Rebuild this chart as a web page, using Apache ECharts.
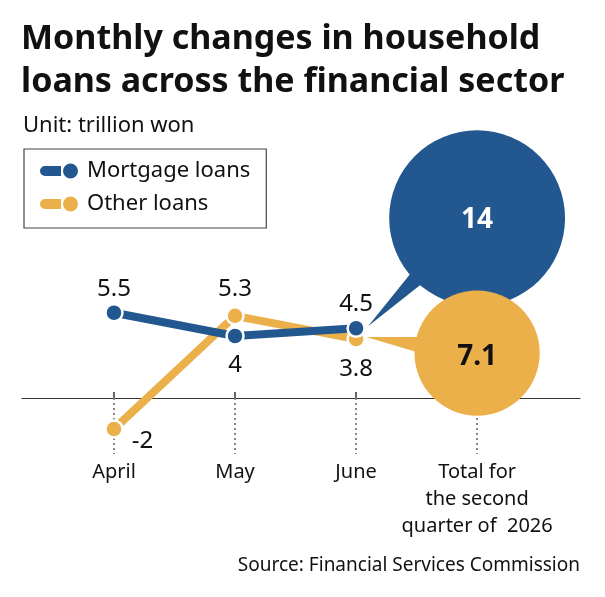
<!DOCTYPE html>
<html><head><meta charset="utf-8">
<script src="https://cdn.jsdelivr.net/npm/echarts@6/dist/echarts.min.js"></script>
<style>html,body{margin:0;padding:0;background:#fff}#c{width:605px;height:597px}</style>
</head><body><div id="c"></div>
<script>
// ---- data ----
const categories = ['April', 'May', 'June', 'Total for\nthe second\nquarter of  2026'];
const seriesNames = ['Mortgage loans', 'Other loans'];
const mortgageLoans = [5.5, 4, 4.5];
const otherLoans = [-2, 5.3, 3.8];
const quarterTotals = [14, 7.1];

// ---- style ----
const BLUE = '#22578f', ORANGE = '#ebb04a', INK = '#111';
const FONT = '"Noto Sans", sans-serif';
const BUBBLE_CY = [11.6, 2.9];      // layout: bubble centre heights (axis units)
const R_K = 23.5;                   // bubble radius = R_K * sqrt(value)
const lastVals = [mortgageLoans, otherLoans].map(a => a[a.length - 1]);
const tipOffset = [[12, -2], [10, -2]];
const tipHalf = [8, 8];

const mLabel = [{position: 'top', distance: 2}, {position: 'bottom', distance: 7}, {position: 'top', distance: 2}];
const oLabel = [{position: 'right', distance: 8, offset: [0, 12]}, {position: 'top', distance: 5}, {position: 'bottom', distance: 8}];

const iconPath = 'path://M5,2.5 L21,2.5 L21,12.5 L5,12.5 A5,5 0 0 1 5,2.5 Z M23,7.5 A7.5,7.5 0 1 0 38,7.5 A7.5,7.5 0 1 0 23,7.5 Z';

function lineSeries(name, vals, color, labels, z) {
  return {
    type: 'line', name: name, z: z, clip: false,
    data: vals.map((v, i) => ({value: [i, v], label: labels[i]})),
    symbol: 'circle', symbolSize: 17,
    lineStyle: {color: color, width: 8},
    itemStyle: {color: color, borderColor: '#fff', borderWidth: 2.5},
    label: {show: true, color: INK, fontSize: 24, fontFamily: FONT,
      formatter: p => String(p.value[1])},
    emphasis: {disabled: true},
    animation: false
  };
}

function renderBubble(params, api) {
  const i = params.dataIndex;
  const v = api.value(1);
  const cx = api.coord([3, 0])[0];
  const cy = api.coord([3, BUBBLE_CY[i]])[1];
  const r = R_K * Math.sqrt(v);
  const p = api.coord([2, lastVals[i]]);
  const apex = [p[0] + tipOffset[i][0], p[1] + tipOffset[i][1]];
  const ang = Math.atan2(apex[1] - cy, apex[0] - cx);
  const da = Math.asin(tipHalf[i] / r);
  const rr = r - 3;
  const b1 = [cx + rr * Math.cos(ang - da), cy + rr * Math.sin(ang - da)];
  const b2 = [cx + rr * Math.cos(ang + da), cy + rr * Math.sin(ang + da)];
  const color = i === 0 ? BLUE : ORANGE;
  return {
    type: 'group',
    children: [
      {type: 'polygon', shape: {points: [apex, b1, b2]}, style: {fill: color}},
      {type: 'circle', shape: {cx: cx, cy: cy, r: r}, style: {fill: color}},
      {type: 'text', x: cx, y: cy + (i === 0 ? 2 : 4),
        style: {text: String(v), fill: i === 0 ? '#fff' : INK, fontSize: 28, fontWeight: 'bold',
          fontFamily: FONT, align: 'center', verticalAlign: 'middle'}}
    ]
  };
}

const chart = echarts.init(document.getElementById('c'), null, {renderer: 'canvas'});
chart.setOption({
  backgroundColor: '#fff',
  animation: false,
  title: [
    {text: 'Monthly changes in household\nloans across the financial sector', left: 21, top: 18, padding: 0,
      textStyle: {fontFamily: FONT, fontSize: 34, fontWeight: 'bold', color: INK, lineHeight: 43}},
    {text: 'Unit: trillion won', left: 23, top: 115, padding: 0,
      textStyle: {fontFamily: FONT, fontSize: 22, fontWeight: 'normal', color: INK}},
    {text: 'Source: Financial Services Commission', right: 25, top: 556, padding: 0,
      textStyle: {fontFamily: FONT, fontSize: 19, fontWeight: 'normal', color: INK}}
  ],
  legend: {
    data: seriesNames.map(n => ({name: n, icon: iconPath})),
    orient: 'vertical', left: 24, top: 149,
    padding: [11, 16, 13, 16], itemGap: 11,
    itemWidth: 38, itemHeight: 15,
    borderColor: '#444', borderWidth: 1.2,
    itemStyle: {borderWidth: 0},
    textStyle: {fontFamily: FONT, fontSize: 22, color: INK, padding: [0, 0, 0, 4]},
    selectedMode: false
  },
  grid: {left: 22, right: 25, top: 212, bottom: 199, containLabel: false},
  xAxis: [
    {type: 'value', min: -0.76, max: 3.85, position: 'bottom',
      axisLine: {show: true, onZero: false, lineStyle: {color: '#333', width: 1.2}},
      axisTick: {show: true, inside: true, length: 6, customValues: [0, 1, 2, 3], lineStyle: {color: '#333', width: 1.5}},
      axisLabel: {show: true, customValues: [0, 1, 2, 3], margin: 61, formatter: v => categories[Math.round(v)],
        fontFamily: FONT, fontSize: 20, lineHeight: 27, color: INK, align: 'center', verticalAlign: 'top'},
      splitLine: {show: false}},
    {type: 'value', min: -0.76, max: 3.85, position: 'bottom', offset: 0,
      axisLine: {show: false, onZero: false},
      axisTick: {show: true, inside: false, length: 56, customValues: [0, 1, 2, 3],
        lineStyle: {color: '#888', width: 2, type: [2, 3]}},
      axisLabel: {show: false}, splitLine: {show: false}}
  ],
  yAxis: {type: 'value', min: 0, max: 12, show: false, splitLine: {show: false}},
  series: [
    lineSeries(seriesNames[1], otherLoans, ORANGE, oLabel, 3),
    lineSeries(seriesNames[0], mortgageLoans, BLUE, mLabel, 4),
    {type: 'custom', name: 'totals', z: 5, clip: false,
      data: quarterTotals.map(v => [3, v]),
      encode: {x: 0, y: 1},
      renderItem: renderBubble, animation: false, silent: true}
  ]
});
</script></body></html>
